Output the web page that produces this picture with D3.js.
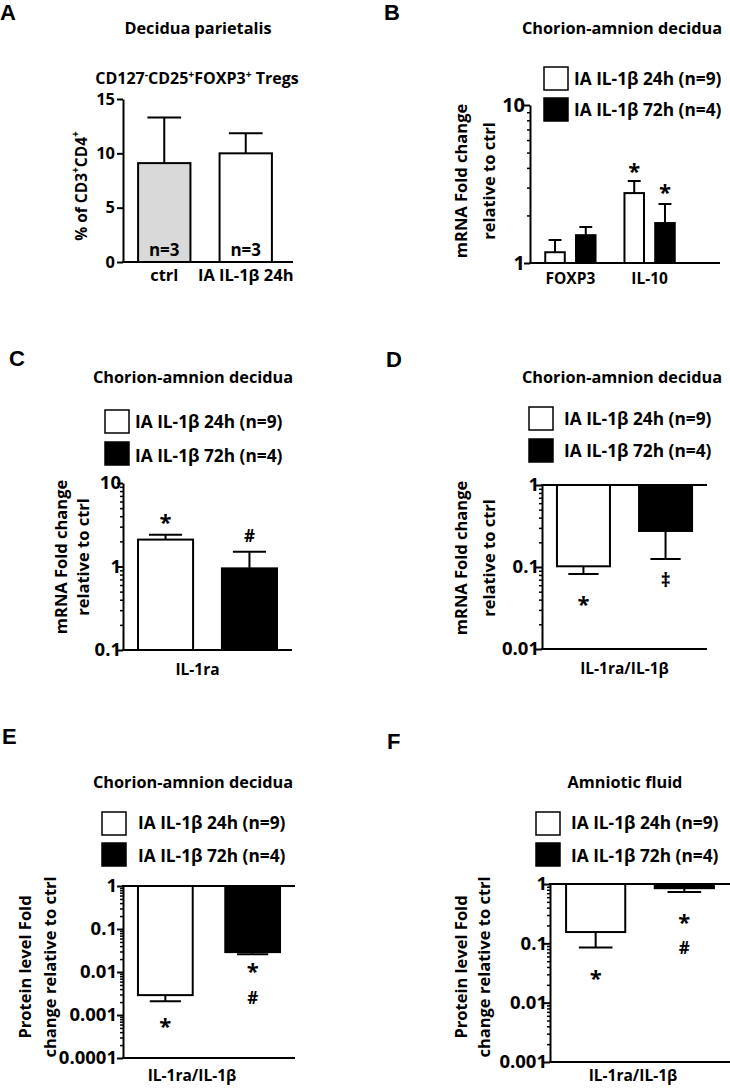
<!DOCTYPE html>
<html><head><meta charset="utf-8">
<script src="https://cdn.jsdelivr.net/npm/d3@7"></script>
<style>
body{margin:0;background:#fff}
svg{display:block}
text{font-family:"Open Sans",sans-serif;font-weight:700;fill:#000}
</style>
</head><body>
<svg id="c" width="730" height="1089"></svg>
<script>
// ---------------- DATA ----------------
const seriesNames = ["IA IL-1β 24h (n=9)", "IA IL-1β 72h (n=4)"];

// Panel A
const aCategories = ["ctrl", "IA IL-1β 24h"];
const aValues = [9.1, 10.0];
const aErrUpper = [13.3, 11.85];
const aNLabels = ["n=3", "n=3"];
const aTicks = [0, 5, 10, 15];

// Panel B
const bCategories = ["FOXP3", "IL-10"];
const b24Values = [1.17, 2.77];
const b24Err = [1.40, 3.30];
const b72Values = [1.50, 1.79];
const b72Err = [1.69, 2.36];
const b24Marks = ["", "*"];
const b72Marks = ["", "*"];
const bTicks = [1, 10];
const bTickLabels = ["1", "10"];

// Panel C
const cCategories = ["IL-1ra"];
const c24Values = [2.1];
const c24Err = [2.4];
const c72Values = [0.95];
const c72Err = [1.5];
const c24Marks = ["*"];
const c72Marks = ["#"];
const cTicks = [0.1, 1, 10];
const cTickLabels = ["0.1", "1", "10"];

// Panel D
const dCategories = ["IL-1ra/IL-1β"];
const d24Values = [0.102];
const d24Err = [0.082];
const d72Values = [0.275];
const d72Err = [0.125];
const d24Marks = ["*"];
const d72Marks = ["‡"];
const dTicks = [0.01, 0.1, 1];
const dTickLabels = ["0.01", "0.1", "1"];

// Panel E
const eCategories = ["IL-1ra/IL-1β"];
const e24Values = [0.0029];
const e24Err = [0.0021];
const e72Values = [0.029];
const e72Err = [0.026];
const e24Marks = ["*"];
const e72Marks = ["*#"];
const eTicks = [0.0001, 0.001, 0.01, 0.1, 1];
const eTickLabels = ["0.0001", "0.001", "0.01", "0.1", "1"];

// Panel F
const fCategories = ["IL-1ra/IL-1β"];
const f24Values = [0.155];
const f24Err = [0.085];
const f72Values = [0.85];
const f72Err = [0.73];
const f24Marks = ["*"];
const f72Marks = ["*#"];
const fTicks = [0.001, 0.01, 0.1, 1];
const fTickLabels = ["0.001", "0.01", "0.1", "1"];

// ---------------- DRAWING ----------------
const svg = d3.select("#c");
const seriesFill = ["#ffffff", "#000000"];
const TITLE_FS = 16.3, LEGEND_FS = 17.3, YLAB_FS = 16.5;

function rich(sel, segs, fs) {
  let shifted = false;
  segs.forEach(([t, sup]) => {
    const ts = sel.append("tspan").text(t);
    if (sup && !shifted) { ts.attr("dy", -0.38 * fs).style("font-size", (fs * 0.65) + "px"); shifted = true; }
    else if (sup) { ts.style("font-size", (fs * 0.65) + "px"); }
    else if (!sup && shifted) { ts.attr("dy", 0.38 * fs); shifted = false; }
  });
}

const markStyle = {"*": {fs: 22, off: 0.55}, "#": {fs: 17, off: 0.36}, "‡": {fs: 19, off: 0.28}};

function drawPanel(p) {
  const g = svg.append("g");
  g.append("text").attr("x", p.letterPos[0]).attr("y", p.letterPos[1])
    .style("font-family", '"Liberation Sans",Arial,sans-serif').style("font-size", "22px").text(p.letter);
  g.append("text").attr("x", p.titlePos[0]).attr("y", p.titlePos[1]).attr("text-anchor", "middle")
    .style("font-size", TITLE_FS + "px").text(p.title);
  if (p.subtitle) {
    rich(g.append("text").attr("x", p.subtitlePos[0]).attr("y", p.subtitlePos[1]).attr("text-anchor", "middle")
      .style("font-size", "16px"), p.subtitle, 16);
  }
  if (p.legend) {
    const L = p.legend;
    seriesNames.forEach((name, i) => {
      g.append("rect").attr("x", L.boxX).attr("y", L.boxY[i]).attr("width", 24).attr("height", 23)
        .attr("fill", seriesFill[i]).attr("stroke", "#000").attr("stroke-width", 1.5);
      g.append("text").attr("x", L.textX).attr("y", L.textY[i]).style("font-size", LEGEND_FS + "px").text(name);
    });
  }
  // y label
  p.ylabel.forEach(l => {
    const fs = p.ylabFs || YLAB_FS;
    const t = g.append("text").attr("transform", `translate(${l.x},${p.ylabelCy}) rotate(-90)`)
      .attr("text-anchor", "middle").attr("dominant-baseline", "central").style("font-size", fs + "px");
    rich(t, l.segs, fs);
  });

  const y = p.log ? d3.scaleLog().domain(p.domain).range(p.yRange)
                  : d3.scaleLinear().domain(p.domain).range(p.yRange);
  const x0 = d3.scaleBand().domain(p.categories).range(p.xRange).paddingInner(p.pi).paddingOuter(p.po);
  const x1 = d3.scaleBand().domain(p.keys).range([0, x0.bandwidth()]).paddingInner(p.pi1).paddingOuter(p.po1);

  // axes
  const ax = g.append("g").attr("transform", `translate(${p.axisX},0)`);
  const major = d3.axisLeft(y).tickValues(p.ticks).tickSize(6).tickSizeOuter(0).tickPadding(p.tickPad)
    .tickFormat((d, i) => p.tickLabels[i]);
  ax.call(major);
  ax.selectAll("text").style("font-size", p.tickFs + "px").style("font-family", '"Open Sans",sans-serif')
    .style("font-weight", 700).attr("fill", "#000");
  if (p.log) {
    const minors = y.ticks().filter(v => !p.ticks.some(t => Math.abs(t - v) / t < 1e-6));
    const mg = g.append("g").attr("transform", `translate(${p.axisX},0)`);
    mg.call(d3.axisLeft(y).tickValues(minors).tickSize(3).tickFormat(""));
    mg.select(".domain").remove();
    mg.selectAll("line").attr("stroke-width", 1.5);
  }
  ax.selectAll("line").attr("stroke-width", 2);
  ax.select(".domain").attr("stroke-width", 2);
  // horizontal lines
  p.hLines.forEach(v => {
    g.append("line").attr("x1", p.axisX - 1).attr("x2", p.lineEnd).attr("y1", y(v)).attr("y2", y(v))
      .attr("stroke", "#000").attr("stroke-width", 2);
  });

  const bars = [];
  p.categories.forEach((c, ci) => {
    p.keys.forEach((k, ki) => {
      bars.push({c, k, v: p.values[ki][ci], e: p.errs[ki][ci], fill: p.fills[ki][ci],
        marks: p.marks ? p.marks[ki][ci] : "", markOff: p.markOffsets ? p.markOffsets[ki][ci] : null});
    });
  });
  const bw = x1.bandwidth();
  const cx = d => x0(d.c) + x1(d.k) + bw / 2;
  // error bars
  g.selectAll(".err").data(bars).enter().append("path")
    .attr("d", d => `M${cx(d)},${y(d.v)}V${y(d.e)}M${cx(d) - bw * p.cap / 2},${y(d.e)}H${cx(d) + bw * p.cap / 2}`)
    .attr("stroke", "#000").attr("stroke-width", 2).attr("fill", "none");
  g.selectAll(".bar").data(bars).enter().append("rect")
    .attr("x", d => x0(d.c) + x1(d.k) + 1)
    .attr("width", bw - 2)
    .attr("y", d => Math.min(y(d.v), y(p.base)))
    .attr("height", d => Math.abs(y(d.v) - y(p.base)))
    .attr("fill", d => d.fill).attr("stroke", "#000").attr("stroke-width", 2);
  // significance marks
  bars.forEach(d => {
    if (!d.marks) return;
    const chars = Array.from(d.marks);
    chars.forEach((ch, i) => {
      const st = markStyle[ch];
      const cy = y(d.e) + d.markOff[i];
      g.append("text").attr("x", cx(d)).attr("y", cy + st.off * st.fs).attr("text-anchor", "middle")
        .style("font-size", st.fs + "px").text(ch);
    });
  });
  // n labels
  if (p.nLabels) {
    bars.forEach((d, i) => {
      g.append("text").attr("x", cx(d)).attr("y", p.nY).attr("text-anchor", "middle")
        .style("font-size", "17px").text(p.nLabels[i]);
    });
  }
  // category labels
  p.categories.forEach(c => {
    g.append("text").attr("x", x0(c) + x0.bandwidth() / 2 + (p.xLabelDx || 0)).attr("y", p.xLabelY)
      .attr("text-anchor", "middle").style("font-size", p.xLabelFs + "px").text(c);
  });
}

const mrnaLabel = (x1, x2) => [{x: x1, segs: [["mRNA Fold change", false]]}, {x: x2, segs: [["relative to ctrl", false]]}];
const protLabel = (x1, x2) => [{x: x1, segs: [["Protein level Fold", false]]}, {x: x2, segs: [["change relative to ctrl", false]]}];

// Panel A
drawPanel({
  letter: "A", letterPos: [0, 20], title: "Decidua parietalis", titlePos: [198, 34],
  subtitle: [["CD127", false], ["-", true], ["CD25", false], ["+", true], ["FOXP3", false], ["+", true], [" Tregs", false]],
  subtitlePos: [197, 84],
  ylabel: [{x: 81, segs: [["% of CD3", false], ["+", true], ["CD4", false], ["+", true]]}], ylabelCy: 186, ylabFs: 15.5,
  log: false, domain: [0, 15], yRange: [262, 99], ticks: aTicks, tickLabels: aTicks.map(String), tickFs: 16.5, tickPad: 2,
  axisX: 123, lineEnd: 293, hLines: [0], base: 0,
  categories: aCategories, keys: ["v"], xRange: [123, 287], pi: 0.333, po: 0.173, pi1: 0, po1: 0,
  values: [aValues], errs: [aErrUpper], fills: [["#d9d9d9", "#ffffff"]], cap: 0.62,
  nLabels: aNLabels, nY: 256, xLabelY: 281, xLabelFs: 16.5
});

// Panel B
drawPanel({
  letter: "B", letterPos: [384, 20], title: "Chorion-amnion decidua", titlePos: [622, 34],
  legend: {boxX: 544, boxY: [67, 98], textX: 574, textY: [85, 116]},
  ylabel: mrnaLabel(460, 488), ylabelCy: 181,
  log: true, domain: [1, 10], yRange: [263, 105], ticks: bTicks, tickLabels: bTickLabels, tickFs: 20, tickPad: -1,
  axisX: 530, lineEnd: 720, hLines: [1], base: 1,
  categories: bCategories, keys: ["24", "72"], xRange: [530, 690], pi: 0.34, po: 0.18, pi1: 0.3, po1: 0,
  values: [b24Values, b72Values], errs: [b24Err, b72Err], fills: [["#fff", "#fff"], ["#000", "#000"]], cap: 0.6,
  marks: [b24Marks, b72Marks], markOffsets: [[null, [-14]], [null, [-16]]],
  xLabelY: 284, xLabelFs: 15.5
});

// Panel C
drawPanel({
  letter: "C", letterPos: [9, 366], title: "Chorion-amnion decidua", titlePos: [193, 383],
  legend: {boxX: 105, boxY: [410, 442], textX: 135, textY: [428, 462]},
  ylabel: mrnaLabel(60, 82), ylabelCy: 557,
  log: true, domain: [0.1, 10], yRange: [650, 483], ticks: cTicks, tickLabels: cTickLabels, tickFs: 18.5, tickPad: -4,
  axisX: 123, lineEnd: 292, hLines: [0.1], base: 0.1,
  categories: cCategories, keys: ["24", "72"], xRange: [123, 292], pi: 0, po: 0, pi1: 0.32, po1: 0.167,
  values: [c24Values, c72Values], errs: [c24Err, c72Err], fills: [["#fff"], ["#000"]], cap: 0.58,
  marks: [c24Marks, c72Marks], markOffsets: [[[-17]], [[-16]]],
  xLabelY: 675, xLabelFs: 15.5, xLabelDx: -10
});

// Panel D
drawPanel({
  letter: "D", letterPos: [386, 367], title: "Chorion-amnion decidua", titlePos: [622, 383],
  legend: {boxX: 529, boxY: [407, 439], textX: 564, textY: [425, 457]},
  ylabel: mrnaLabel(460, 488), ylabelCy: 558,
  log: true, domain: [0.01, 1], yRange: [649, 485], ticks: dTicks, tickLabels: dTickLabels, tickFs: 18.5, tickPad: -3,
  axisX: 542, lineEnd: 707, hLines: [1, 0.01], base: 1,
  categories: dCategories, keys: ["24", "72"], xRange: [542, 707], pi: 0, po: 0, pi1: 0.33, po1: 0.17,
  values: [d24Values, d72Values], errs: [d24Err, d72Err], fills: [["#fff"], ["#000"]], cap: 0.55,
  marks: [d24Marks, d72Marks], markOffsets: [[[26]], [[23]]],
  xLabelY: 674, xLabelFs: 15.5
});

// Panel E
drawPanel({
  letter: "E", letterPos: [2, 744], title: "Chorion-amnion decidua", titlePos: [193, 788],
  legend: {boxX: 102, boxY: [812, 843], textX: 138, textY: [829, 862]},
  ylabel: protLabel(24, 49), ylabelCy: 967,
  log: true, domain: [0.0001, 1], yRange: [1058, 886], ticks: eTicks, tickLabels: eTickLabels, tickFs: 18.5, tickPad: 0,
  axisX: 123, lineEnd: 295, hLines: [1, 0.0001], base: 1,
  categories: eCategories, keys: ["24", "72"], xRange: [123, 295], pi: 0, po: 0, pi1: 0.35, po1: 0.16,
  values: [e24Values, e72Values], errs: [e24Err, e72Err], fills: [["#fff"], ["#000"]], cap: 0.55,
  marks: [e24Marks, e72Marks], markOffsets: [[[21]], [[13, 44]]],
  xLabelY: 1081, xLabelFs: 15.5, xLabelDx: -17
});

// Panel F
drawPanel({
  letter: "F", letterPos: [387, 749], title: "Amniotic fluid", titlePos: [625, 788],
  legend: {boxX: 536, boxY: [812, 843], textX: 571, textY: [829, 862]},
  ylabel: protLabel(460, 483), ylabelCy: 967,
  log: true, domain: [0.001, 1], yRange: [1062, 884], ticks: fTicks, tickLabels: fTickLabels, tickFs: 18.5, tickPad: -3,
  axisX: 550, lineEnd: 730, hLines: [1, 0.001], base: 1,
  categories: fCategories, keys: ["24", "72"], xRange: [550, 730], pi: 0, po: 0, pi1: 0.31, po1: 0.17,
  values: [f24Values, f72Values], errs: [f24Err, f72Err], fills: [["#fff"], ["#000"]], cap: 0.55,
  marks: [f24Marks, f72Marks], markOffsets: [[[26]], [[26, 56]]],
  xLabelY: 1081, xLabelFs: 15.5, xLabelDx: -7
});
</script>
</body></html>
